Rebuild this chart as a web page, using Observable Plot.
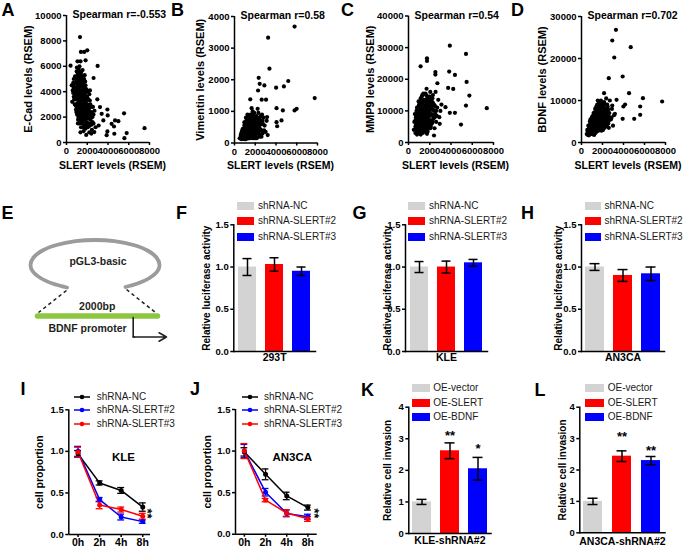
<!DOCTYPE html>
<html><head><meta charset="utf-8">
<script src="https://cdn.jsdelivr.net/npm/d3@7"></script>
<script src="https://cdn.jsdelivr.net/npm/@observablehq/plot@0.6"></script>
<style>
body{margin:0;background:#fff;}
#fig{position:relative;width:685px;height:548px;overflow:hidden;background:#fff;font-family:Arial,"Liberation Sans",sans-serif;color:#000;}
</style></head><body><div id="fig"></div>
<script>
// ---------------- DATA ----------------
const slertTicks = [0, 2000, 4000, 6000, 8000];
// Panel A: [SLERT, E-Cad]
const ecadPts = [[600,4100],[700,3600],[750,4600],[800,3000],[820,5200],[850,4000],[900,3400],[920,2600],[950,4800],[980,5600],[1000,3800],[1020,2200],[1050,4400],[1080,3100],[1100,5000],[1120,1800],[1150,3600],[1170,5800],[1200,2700],[1220,4200],[1250,1500],[1270,3300],[1300,4700],[1320,2300],[1350,5300],[1380,3900],[1400,1200],[1420,2900],[1450,4500],[1480,2000],[1500,3500],[1520,5000],[1550,2600],[1580,4100],[1600,1500],[1620,3100],[1650,900],[1680,3800],[1700,2300],[1720,4400],[1750,1800],[1780,3300],[1800,2700],[1830,1100],[1850,3900],[1880,2100],[1900,600],[1920,3000],[1950,1600],[1980,3600],[2000,2400],[2050,1200],[2100,2900],[2150,1900],[2200,800],[2250,3300],[2300,2300],[2350,1500],[2400,2800],[2450,1000],[2500,2000],[2600,1500],[2700,2500],[2800,1200],[1100,4600],[1250,6000],[1400,5500],[900,4300],[700,5000],[1000,2800],[1150,2000],[1300,3700],[1450,3000],[1600,4700],[1700,1300],[1850,2000],[550,3200],[650,4700],[800,3900],[1200,4900],[1350,2500],[1500,1700],[1650,2500],[1750,5300],[1900,4200],[2000,3500],[2150,2600],[2300,1800],[2400,700],[2600,2200],[500,4500],[1050,5300],[1250,3000],[1550,5700],[1800,4800],[2100,4000],[2200,3800],[950,3000],[1100,1500],[1350,800],
[850,3700],[900,5100],[950,2400],[1000,4600],[1000,5900],[1050,3500],[1080,2600],[1100,4200],[1120,5500],[1150,3000],[1150,4800],[1180,2300],[1200,3800],[1220,5400],[1250,4500],[1250,2000],[1280,2800],[1300,5000],[1300,3300],[1330,4100],[1350,1800],[1370,3000],[1400,4800],[1400,3600],[1420,2400],[1450,5200],[1450,1600],[1480,3900],[1500,2800],[1500,4400],[1530,2200],[1550,3300],[1570,4900],[1600,3800],[1600,2000],[1630,2800],[1650,4300],[1650,1200],[1680,3400],[1700,5000],[1720,2000],[1750,2900],[1750,4000],[1780,1500],[1800,3600],[1800,2300],[1830,4500],[1850,2700],[1870,1400],[1900,3300],[1900,2400],[1950,2900],[1950,4100],[2000,1900],[2000,3000],[2050,2600],[2080,1500],[2100,3400],[2150,2200],[2200,2800],[2200,1300],[2250,2400],[2300,3000],[2350,2000],[2400,1400],[2450,2400],[2500,1600],[2550,2800],[1100,3900],[1200,3300],[1350,4400],[1450,3400],[1550,3900],[1700,3700],[1850,3100],[950,4000],[1050,4900],[1150,5200],[1300,2500],[1550,1500],[1750,2500],[900,2900],[750,3400],[700,4300],[650,3900],[1950,1200],[2100,2000],[1250,5600],[1400,2100],[1600,5200],
[1300,8300],[1390,7130],[1710,7130],[2000,7260],[1060,6390],[1350,6390],[390,6050],[1840,6470],[3000,6030],[2610,5080],[2970,3400],[2260,4100],[3230,2790],[3940,2600],[3970,2130],[4680,1740],[5000,1680],[4350,1470],[4580,1260],[4610,690],[3940,870],[3870,580],[5550,2300],[5800,740],[5580,340],[7520,1130],[2680,820],[3100,1340],[3550,1740],[3390,2260]];
// Panel B: [SLERT, Vimentin]
const vimPts = [[500,150],[600,250],[650,120],[700,350],[750,200],[800,450],[850,150],[900,300],[950,550],[1000,200],[1050,400],[1100,650],[1100,120],[1150,300],[1200,500],[1250,200],[1250,750],[1300,400],[1350,600],[1400,150],[1400,850],[1450,300],[1500,500],[1550,700],[1600,200],[1600,400],[1650,900],[1700,600],[1750,300],[1800,750],[1850,150],[1850,500],[1900,950],[1950,350],[2000,650],[2050,200],[2100,850],[2100,450],[2200,300],[2200,650],[2300,950],[2350,500],[2400,200],[2450,750],[2550,400],[2600,600],[2700,300],[2800,800],[2900,550],[3000,350],[900,180],[1000,450],[1150,550],[1300,250],[1350,150],[1500,800],[1550,250],[1700,150],[1750,1000],[1800,400],[1950,700],[2000,250],[2150,550],[2250,800],[2500,250],[2650,900],[2750,600],[1200,350],[1450,650],[1650,550],[1900,450],[2050,750],[750,300],[1050,250],[1600,700],[2300,400],[2600,200],[2850,400],[3100,700],[3200,250],[950,120],[1200,180],[700,150],[1800,250],[2150,150],[1000,650],[1300,550],[1550,450],[1700,850],[2400,550],
[600,180],[650,300],[700,220],[750,400],[800,250],[800,130],[850,350],[900,420],[900,230],[950,300],[950,650],[1000,350],[1000,130],[1050,550],[1050,170],[1100,300],[1100,450],[1150,200],[1150,700],[1200,420],[1200,620],[1250,330],[1250,500],[1300,150],[1300,700],[1350,350],[1350,480],[1400,250],[1400,600],[1450,430],[1450,150],[1500,300],[1500,650],[1550,550],[1550,350],[1600,550],[1600,850],[1650,250],[1650,420],[1700,350],[1700,700],[1750,500],[1750,200],[1800,600],[1800,900],[1850,350],[1850,700],[1900,250],[1900,600],[1950,500],[2000,400],[2000,800],[2050,550],[2100,300],[2100,650],[2150,450],[2200,800],[2250,400],[2300,600],[2350,300],[2400,700],[2450,450],[2500,600],[2550,850],[2600,400],[2700,700],[1100,800],[1250,900],[1400,750],[1550,900],[1700,500],[1900,800],[2000,150],[2200,500],[2350,750],[1200,250],[1350,250],[1500,200],[1650,650],[1800,450],[950,450],[1150,420],[850,250],[700,280],
[5790,3680],[3240,3330],[3370,2350],[2330,2060],[2430,1870],[2880,1820],[4010,1750],[4760,1790],[5180,1960],[2270,1660],[2620,1370],[3040,1370],[1520,1380],[4050,1100],[4660,1030],[5790,1030],[5990,1080],[7730,1420],[1650,1100],[2230,1080],[4050,660],[4110,530],[3140,820],[4530,715]];
// Panel C: [SLERT, MMP9]
const mmp9Pts = [[500,4000],[550,6500],[600,9000],[650,3000],[700,5500],[750,7500],[800,2500],[800,11000],[850,4500],[900,8500],[950,6000],[1000,3500],[1000,12000],[1050,9500],[1100,5000],[1100,7000],[1150,2500],[1150,14000],[1200,10500],[1250,4000],[1250,8000],[1300,6000],[1300,12500],[1350,3000],[1400,9000],[1400,15500],[1450,5500],[1500,11000],[1500,7000],[1550,3500],[1600,13000],[1600,8500],[1650,5000],[1700,10000],[1700,17000],[1750,6500],[1800,12000],[1800,3500],[1850,8000],[1900,14500],[1900,5500],[1950,10500],[2000,7000],[2050,16000],[2050,4500],[2100,12500],[2150,9000],[2200,6000],[2250,14000],[2300,10500],[2350,7500],[2400,12000],[2500,9000],[2550,16000],[2600,6500],[2700,11000],[2800,13500],[2900,8000],[3000,10000],[3100,12000],[650,7000],[750,10000],[900,3000],[950,13000],[1050,4000],[1200,6500],[1350,10000],[1450,13500],[1550,9500],[1650,15000],[1750,4000],[1850,11000],[1950,8500],[2100,5000],[2200,11500],[2450,4500],[2650,8500],[700,4200],[1000,8000],[1250,14500],[1600,6000],[1900,12000],[2300,15000],[1100,11500],[1400,7500],[1700,9000],[2000,10000],[2500,11500],[900,6000],[1500,4200],
[650,5000],[700,8000],[750,4000],[800,6500],[800,9000],[850,3500],[850,7000],[900,5000],[900,10000],[950,4000],[950,8000],[1000,6500],[1000,10000],[1050,5500],[1050,7500],[1050,11500],[1100,3500],[1100,9000],[1150,6000],[1150,8000],[1150,11000],[1200,4500],[1200,8500],[1200,12500],[1250,6000],[1250,10000],[1300,4500],[1300,8000],[1300,10500],[1350,5500],[1350,7000],[1350,13000],[1400,4000],[1400,6500],[1400,11000],[1450,8000],[1450,10000],[1500,5500],[1500,9000],[1500,13000],[1550,6500],[1550,11500],[1600,4500],[1600,10000],[1650,7500],[1650,12000],[1700,5500],[1700,7000],[1750,9500],[1750,14000],[1800,6000],[1800,8500],[1850,5000],[1850,13000],[1900,7000],[1900,10000],[1950,6000],[1950,12500],[2000,8500],[2000,5000],[2050,11000],[2100,7000],[2150,10500],[2200,8500],[2250,6500],[2300,12500],[2400,8000],[2400,10000],[2600,10000],[1100,13000],[1250,12000],[1450,4000],[1650,3500],[1700,13500],[1850,9500],[2050,13500],[2200,13000],[950,11500],[1300,15000],[1600,15500],[1000,5000],[1200,7000],[1450,6000],[1750,11000],[2000,14500],[2150,12000],
[3890,30630],[5410,28000],[1740,26630],[1740,25790],[1140,24100],[2530,22300],[3830,22420],[4370,21370],[2530,21470],[3730,17260],[4210,16950],[2720,18740],[5470,19160],[5730,14840],[5410,11680],[7370,10840],[3890,9370],[4370,9370],[4940,5680],[2470,8000],[2400,2210],[1740,2740],[2940,5890],[3480,11160]];
// Panel D: [SLERT, BDNF]
const bdnfPts = [[500,2000],[550,3000],[600,1800],[650,4000],[700,2500],[750,3500],[800,5000],[850,2000],[900,4200],[950,3000],[1000,6000],[1000,2200],[1050,4800],[1100,3500],[1150,7000],[1150,2500],[1200,5500],[1250,4000],[1300,3000],[1300,8000],[1350,6200],[1400,2500],[1400,4600],[1450,7500],[1500,3500],[1500,9000],[1550,5500],[1600,2800],[1650,6800],[1700,4200],[1700,9500],[1750,8000],[1800,3200],[1800,5800],[1850,10000],[1900,7000],[1950,4500],[2000,8800],[2050,3000],[2100,6200],[2150,9600],[2200,5000],[2250,7500],[2300,3800],[2350,10500],[2400,6000],[2500,8500],[2550,4500],[2650,7000],[2700,10000],[2800,5500],[2900,8000],[3000,4000],[3100,6500],[700,1700],[900,3500],[1050,2000],[1250,6500],[1350,5000],[1450,3000],[1600,8500],[1650,4000],[1750,5000],[1900,2800],[2000,6500],[2100,4000],[2200,8000],[2450,9000],[2600,3500],[2750,6000],[850,5500],[1100,6000],[1200,1800],[1550,10000],[1850,6000],[2300,7000],[2600,5200],[1000,4000],[1300,2200],[1500,6500],[1800,7500],[2150,5500],[2400,4800],[1950,3600],[1150,4300],[1400,8500],[600,2600],[750,1900],
[650,2200],[700,3200],[750,2600],[800,3800],[800,2200],[850,4500],[850,3000],[900,2500],[900,5200],[950,3800],[950,4600],[1000,3000],[1000,5200],[1050,3600],[1050,6300],[1100,2700],[1100,4400],[1100,5300],[1150,3300],[1150,5800],[1200,4200],[1200,6500],[1200,3000],[1250,5000],[1250,2800],[1250,7200],[1300,4300],[1300,6000],[1350,3500],[1350,7000],[1400,5300],[1400,3500],[1400,6800],[1450,4200],[1450,6000],[1500,5000],[1500,7500],[1500,2800],[1550,4000],[1550,6800],[1600,5000],[1600,7300],[1600,3800],[1650,5800],[1650,8000],[1700,3400],[1700,5300],[1700,7000],[1750,4500],[1750,6200],[1800,4800],[1800,8800],[1850,3800],[1850,7000],[1900,5500],[1900,8200],[1950,6200],[1950,7600],[2000,4800],[2000,7400],[2050,5800],[2050,8500],[2100,7000],[2150,4500],[2150,6800],[2200,6300],[2250,5500],[2250,9000],[2300,8000],[2350,5500],[2400,7400],[2500,6500],[2550,7800],[2650,5800],[1300,5300],[1450,8000],[1550,9000],[1750,9500],[1950,9300],[2100,9000],[900,3300],[1150,3800],[1350,4600],[1600,6200],[1850,5200],[2000,5600],[2400,4000],[2200,3500],
[3280,26830],[2930,24290],[4690,22700],[3120,20240],[3920,15710],[2600,15320],[4530,11750],[2150,11750],[7680,9760],[5850,10560],[5590,8570],[5590,6590],[5020,5630],[3920,5630],[3990,8570],[4150,9050],[3340,10160],[2930,8810],[3180,6830],[2860,5870]];

// Panels F-H (luciferase)
const shGroups = ["shRNA-NC", "shRNA-SLERT#2", "shRNA-SLERT#3"];
const shBarColors = ["#d3d3d3", "#ff0000", "#0000ff"];
const luc293Mean = [1.00, 1.03, 0.95], luc293Err = [0.10, 0.08, 0.05];
const lucKLEMean = [1.00, 1.00, 1.05], lucKLEErr = [0.065, 0.07, 0.04];
const lucAN3Mean = [1.00, 0.90, 0.92], lucAN3Err = [0.04, 0.07, 0.08];

// Panels I-J (cell proportion over time)
const times = ["0h", "2h", "4h", "8h"];
const shLineColors = ["#000000", "#0000ff", "#ff0000"];
const kleMeans = [[0.97, 0.62, 0.53, 0.33], [1.00, 0.42, 0.21, 0.155], [0.99, 0.355, 0.30, 0.22]];
const kleErrs  = [[0.04, 0.025, 0.035, 0.05], [0.06, 0.025, 0.035, 0.02], [0.06, 0.045, 0.03, 0.035]];
const an3Means = [[0.99, 0.72, 0.46, 0.32], [1.00, 0.505, 0.25, 0.21], [1.00, 0.41, 0.255, 0.185]];
const an3Errs  = [[0.05, 0.065, 0.045, 0.03], [0.08, 0.045, 0.04, 0.03], [0.09, 0.02, 0.04, 0.03]];

// Panels K-L (invasion)
const oeGroups = ["OE-vector", "OE-SLERT", "OE-BDNF"];
const oeColors = ["#d3d3d3", "#ff0000", "#0000ff"];
const invKLEMean = [1.00, 2.62, 2.05], invKLEErr = [0.08, 0.25, 0.36], invKLEStars = ["", "**", "*"];
const invAN3Mean = [1.00, 2.44, 2.30], invAN3Err = [0.10, 0.17, 0.13], invAN3Stars = ["", "**", "**"];

// Panel E schematic (diagram geometry)
const eArc = [[66.5,287],[52,283],[40,277.5],[32,270.5],[30,264.5],[33,257],[42,250],[56,244.5],[75,240.7],[94.5,239.5],[114,240.7],[133,244.5],[147,250],[156,257],[159,264.5],[157,270.5],[149,277.5],[137,283],[125,286.5]];
const eDash = [{x1:66,y1:290,x2:38,y2:312},{x1:126,y1:289,x2:155,y2:312}];
const ePromoter = [{x1:37,y1:315.5,x2:157,y2:315.5}];
const eStem = [[132.7,317],[132.7,336.5],[134,336.5]];
const eArrow = [{x1:132.7,y1:336.5,x2:166,y2:336.5}];
const eLabels = [{x:97.5,y:261,t:"pGL3-basic"},{x:96.7,y:306.5,t:"2000bp"},{x:87,y:328.5,t:"BDNF promoter"}];

// ---------------- DRAWING ----------------
const FONT = "Arial, 'Liberation Sans', sans-serif";
const fig = document.getElementById("fig");
const base = {fontFamily: FONT, fontSize: "9.5px", fontWeight: "bold", background: "transparent", overflow: "visible", color: "#000"};
function put(el, left, top) {
  el.style.position = "absolute"; el.style.left = left + "px"; el.style.top = top + "px";
  fig.appendChild(el); return el;
}

function scatter(o) {
  const svg = Plot.plot({
    width: o.w, height: o.h, marginLeft: o.ml, marginRight: o.mr, marginTop: o.mt, marginBottom: o.mb,
    style: base,
    x: {domain: [0, 8000], axis: null},
    y: {domain: [0, o.yMax], axis: null},
    marks: [
      Plot.dot(o.pts, {x: d => d[0], y: d => d[1], r: 2.1, fill: "#000", stroke: "none"}),
      Plot.ruleX([0], {strokeWidth: 1.5}),
      Plot.ruleY([0], {strokeWidth: 1.5}),
      Plot.axisX({ticks: slertTicks, tickFormat: "d", tickSize: 3, tickPadding: 2, strokeWidth: 1.5, label: null, fontSize: 9.5}),
      Plot.axisY({ticks: o.yTicks, tickFormat: "d", tickSize: 3, tickPadding: 2, strokeWidth: 1.5, label: null, fontSize: 9.5}),
      Plot.text([o.ylab], {frameAnchor: "left", rotate: -90, dx: o.ylabDx, textAnchor: "middle", lineAnchor: "middle", fontSize: 11}),
      Plot.text(["SLERT levels (RSEM)"], {frameAnchor: "bottom", dy: 23, dx: 4.5, textAnchor: "middle", lineAnchor: "middle", fontSize: 10.5}),
      Plot.text([o.title], {frameAnchor: "top-left", dx: 6, dy: -0.5, textAnchor: "start", lineAnchor: "middle", fontSize: 10.5})
    ]
  });
  put(svg, o.left, o.top);
}

scatter({pts: ecadPts, left: 0, top: 0, w: 170, h: 175, ml: 66, mr: 21, mt: 15, mb: 33, yMax: 10000, yTicks: [0,2000,4000,6000,8000,10000], ylab: "E-Cad levels (RSEM)", ylabDx: -38, title: "Spearman r=-0.553"});
scatter({pts: vimPts, left: 170, top: 0, w: 170, h: 175, ml: 64, mr: 23, mt: 16, mb: 32.5, yMax: 4000, yTicks: [0,1000,2000,3000,4000], ylab: "Vimentin levels (RSEM)", ylabDx: -34, title: "Spearman r=0.58"});
scatter({pts: mmp9Pts, left: 340, top: 0, w: 170, h: 175, ml: 68, mr: 17, mt: 15.5, mb: 33, yMax: 40000, yTicks: [0,10000,20000,30000,40000], ylab: "MMP9 levels (RSEM)", ylabDx: -38, title: "Spearman r=0.54"});
scatter({pts: bdnfPts, left: 510, top: 0, w: 175, h: 175, ml: 71, mr: 20, mt: 16, mb: 33, yMax: 30000, yTicks: [0,10000,20000,30000], ylab: "BDNF levels (RSEM)", ylabDx: -39, title: "Spearman r=0.702"});

function barPanel(o) {
  const data = o.groups.map((g, i) => ({g, m: o.means[i], e: o.errs[i], s: o.stars ? o.stars[i] : ""}));
  const marks = [
    Plot.barY(data, {x: "g", y: "m", fill: "g"}),
    Plot.ruleX(data, {x: "g", y1: d => d.m - d.e, y2: d => d.m + d.e, stroke: "#000", strokeWidth: 1.5}),
    Plot.tickY(data, {x: "g", y: d => d.m + d.e, insetLeft: 4.5, insetRight: 4.5, stroke: "#000", strokeWidth: 1.5}),
    Plot.tickY(data, {x: "g", y: d => d.m - d.e, insetLeft: 4.5, insetRight: 4.5, stroke: "#000", strokeWidth: 1.5}),
    Plot.frame({anchor: "left", strokeWidth: 1.5}),
    Plot.frame({anchor: "bottom", strokeWidth: 1.5}),
    Plot.axisY({ticks: o.yTicks, tickFormat: o.fmt, tickSize: 3, tickPadding: 2, strokeWidth: 1.5, label: null, fontSize: 9.5}),
    Plot.text([o.cat], {frameAnchor: "bottom", dy: o.catDy, textAnchor: "middle", lineAnchor: "middle", fontSize: 10.5}),
    Plot.text([o.ylab], {frameAnchor: "left", rotate: -90, dx: o.ylabDx, textAnchor: "middle", lineAnchor: "middle", fontSize: 10})
  ];
  if (o.stars) data.forEach((d, i) => {
    if (d.s) marks.push(Plot.text([d], {x: "g", y: r => r.m + r.e, text: "s", dy: o.starDy[i], lineAnchor: "middle", fontSize: 13}));
  });
  const svg = Plot.plot({
    width: o.w, height: o.h, marginLeft: o.ml, marginRight: o.mr, marginTop: o.mt, marginBottom: o.mb,
    style: base,
    x: {type: "band", domain: o.groups, paddingInner: 0.33, paddingOuter: 0.13, axis: null},
    y: {domain: [0, o.yMax], axis: null},
    color: {domain: o.groups, range: o.colors},
    marks
  });
  put(svg, o.left, o.top);
}

barPanel({groups: shGroups, colors: shBarColors, means: luc293Mean, errs: luc293Err, left: 190, top: 190, w: 165, h: 175, ml: 43.3, mr: 40, mt: 34.3, mb: 14, yMax: 1.5, yTicks: [0, 0.5, 1, 1.5], fmt: ".1f", cat: "293T", catDy: 6, ylab: "Relative luciferase activity", ylabDx: -27});
barPanel({groups: shGroups, colors: shBarColors, means: lucKLEMean, errs: lucKLEErr, left: 355, top: 190, w: 165, h: 175, ml: 50, mr: 33, mt: 34.3, mb: 14, yMax: 1.5, yTicks: [0, 0.5, 1, 1.5], fmt: ".1f", cat: "KLE", catDy: 6, ylab: "Relative luciferase activity", ylabDx: -18});
barPanel({groups: shGroups, colors: shBarColors, means: lucAN3Mean, errs: lucAN3Err, left: 520, top: 190, w: 165, h: 175, ml: 61, mr: 21, mt: 34.3, mb: 14, yMax: 1.5, yTicks: [0, 0.5, 1, 1.5], fmt: ".1f", cat: "AN3CA", catDy: 6, ylab: "Relative luciferase activity", ylabDx: -23});
barPanel({groups: oeGroups, colors: oeColors, means: invKLEMean, errs: invKLEErr, stars: invKLEStars, starDy: [0, -7.5, -8.3], left: 345, top: 375, w: 170, h: 173, ml: 63.3, mr: 24.5, mt: 31.7, mb: 15, yMax: 4, yTicks: [0,1,2,3,4], fmt: "d", cat: "KLE-shRNA#2", catDy: 7.5, ylab: "Relative cell invasion", ylabDx: -21});
barPanel({groups: oeGroups, colors: oeColors, means: invAN3Mean, errs: invAN3Err, stars: invAN3Stars, starDy: [0, -14.5, -5.5], left: 515, top: 375, w: 170, h: 173, ml: 64.3, mr: 20.5, mt: 31.7, mb: 15.7, yMax: 4, yTicks: [0,1,2,3,4], fmt: "d", cat: "AN3CA-shRNA#2", catDy: 8.5, ylab: "Relative cell invasion", ylabDx: -17});

function linePanel(o) {
  const rows = [];
  shGroups.forEach((s, si) => times.forEach((t, ti) => rows.push({s, i: ti, m: o.means[si][ti], e: o.errs[si][ti]})));
  const cap = 0.16;
  const svg = Plot.plot({
    width: o.w, height: o.h, marginLeft: o.ml, marginRight: o.mr, marginTop: o.mt, marginBottom: o.mb,
    style: base,
    x: {domain: o.xDom, axis: null},
    y: {domain: [0, 1.5], axis: null},
    color: {domain: shGroups, range: shLineColors},
    marks: [
      Plot.ruleX([o.xDom[0]], {strokeWidth: 1.5}),
      Plot.ruleY([0], {strokeWidth: 1.5}),
      Plot.axisY({ticks: [0, 0.5, 1, 1.5], tickFormat: ".1f", tickSize: 3, tickPadding: 2, strokeWidth: 1.5, label: null, fontSize: 9.5}),
      Plot.axisX({ticks: [0, 1, 2, 3], tickFormat: i => times[i], tickSize: 3, tickPadding: 1, strokeWidth: 1.5, label: null, fontSize: 10.5}),
      Plot.ruleX(rows, {x: "i", y1: d => d.m - d.e, y2: d => d.m + d.e, stroke: "s", strokeWidth: 1.3}),
      Plot.ruleY(rows, {y: d => d.m + d.e, x1: d => d.i - cap, x2: d => d.i + cap, stroke: "s", strokeWidth: 1.3}),
      Plot.ruleY(rows, {y: d => d.m - d.e, x1: d => d.i - cap, x2: d => d.i + cap, stroke: "s", strokeWidth: 1.3}),
      Plot.line(rows, {x: "i", y: "m", z: "s", stroke: "s", strokeWidth: 1.5}),
      Plot.dot(rows, {x: "i", y: "m", fill: "s", r: 2.5}),
      Plot.text([o.cell], {frameAnchor: "top-right", dx: o.cellDx, dy: 47.5, textAnchor: "middle", lineAnchor: "middle", fontSize: 11.5}),
      Plot.text(["**"], {frameAnchor: "bottom-right", dx: -3, dy: -21, rotate: 90, textAnchor: "middle", lineAnchor: "middle", fontSize: 13}),
      Plot.text(["cell proportion"], {frameAnchor: "left", rotate: -90, dx: o.ylabDx, textAnchor: "middle", lineAnchor: "middle", fontSize: 10.5})
    ]
  });
  put(svg, o.left, o.top);
}

linePanel({means: kleMeans, errs: kleErrs, left: 0, top: 375, w: 170, h: 173, ml: 68.3, mr: 20, mt: 34.3, mb: 14, xDom: [-0.43, 3.36], cell: "KLE", cellDx: -27, ylabDx: -29.5});
linePanel({means: an3Means, errs: an3Errs, left: 170, top: 375, w: 170, h: 173, ml: 65, mr: 23.3, mt: 34, mb: 14.3, xDom: [-0.42, 3.44], cell: "AN3CA", cellDx: -25, ylabDx: -27.5});

// Panel E schematic
const eSvg = Plot.plot({
  width: 190, height: 180, margin: 0, style: base,
  x: {domain: [0, 190], axis: null},
  y: {domain: [190, 370], reverse: true, axis: null},
  marks: [
    Plot.line(eArc, {x: d => d[0], y: d => d[1], curve: "catmull-rom", stroke: "#9b9b9b", strokeWidth: 3.8}),
    Plot.link(eDash, {x1: "x1", y1: "y1", x2: "x2", y2: "y2", stroke: "#231f20", strokeWidth: 1.5, strokeDasharray: "3.5,3"}),
    Plot.link(ePromoter, {x1: "x1", y1: "y1", x2: "x2", y2: "y2", stroke: "#8dc63f", strokeWidth: 5.5, strokeLinecap: "round"}),
    Plot.line(eStem, {x: d => d[0], y: d => d[1], stroke: "#231f20", strokeWidth: 1.6}),
    Plot.arrow(eArrow, {x1: "x1", y1: "y1", x2: "x2", y2: "y2", stroke: "#231f20", strokeWidth: 1.6, headLength: 8}),
    Plot.text(eLabels, {x: "x", y: "y", text: "t", fontSize: 10.5, fill: "#231f20"})
  ]
});
put(eSvg, 0, 190);

// Legends
function barLegend(names, colors, swX, txtX, rowsY, swW) {
  names.forEach((n, i) => {
    const sw = document.createElement("div");
    sw.style.cssText = `width:${swW}px;height:8px;background:${colors[i]}`;
    put(sw, swX, rowsY[i] - 4);
    const t = document.createElement("div");
    t.textContent = n;
    t.style.cssText = "font-size:10px;line-height:14px;white-space:nowrap;color:#1a1a1a";
    put(t, txtX, rowsY[i] - 7);
  });
}
function lineLegend(names, colors, swX, txtX, rowsY) {
  names.forEach((n, i) => {
    const s = d3.create("svg").attr("width", 16).attr("height", 8);
    s.append("line").attr("x1", 0).attr("x2", 16).attr("y1", 4).attr("y2", 4).attr("stroke", colors[i]).attr("stroke-width", 1.5);
    s.append("circle").attr("cx", 8).attr("cy", 4).attr("r", 2.3).attr("fill", colors[i]);
    put(s.node(), swX, rowsY[i] - 4);
    const t = document.createElement("div");
    t.textContent = n;
    t.style.cssText = "font-size:10px;line-height:14px;white-space:nowrap;color:#1a1a1a";
    put(t, txtX, rowsY[i] - 7);
  });
}
const shRows = [205.7, 221, 236.5];
barLegend(shGroups, shBarColors, 236.7, 258, shRows, 17);
barLegend(shGroups, shBarColors, 408, 429, shRows, 17);
barLegend(shGroups, shBarColors, 585, 604.5, shRows, 16);
const lnRows = [396.7, 410, 424];
lineLegend(shGroups, shLineColors, 74, 96.7, lnRows);
lineLegend(shGroups, shLineColors, 241.7, 264, lnRows);
const oeRows = [388.3, 402.7, 417.3];
barLegend(oeGroups, oeColors, 411.7, 433.3, oeRows, 18.5);
barLegend(oeGroups, oeColors, 585, 607.7, oeRows, 18.5);

// Panel letters
const letters = [["A",1.5,16.3],["B",171,16.3],["C",341,16.3],["D",511,16.3],["E",1.5,218.5],["F",176,218.5],["G",352.5,218.5],["H",521,218.5],["I",20.5,395],["J",190,395],["K",361,395.5],["L",534.5,395.5]];
const ov = d3.create("svg").attr("width", 685).attr("height", 548).style("pointer-events", "none");
ov.selectAll("text").data(letters).join("text")
  .attr("x", d => d[1]).attr("y", d => d[2]).text(d => d[0])
  .attr("font-family", FONT).attr("font-weight", "bold").attr("font-size", 18).attr("fill", "#000");
put(ov.node(), 0, 0);
</script></body></html>
